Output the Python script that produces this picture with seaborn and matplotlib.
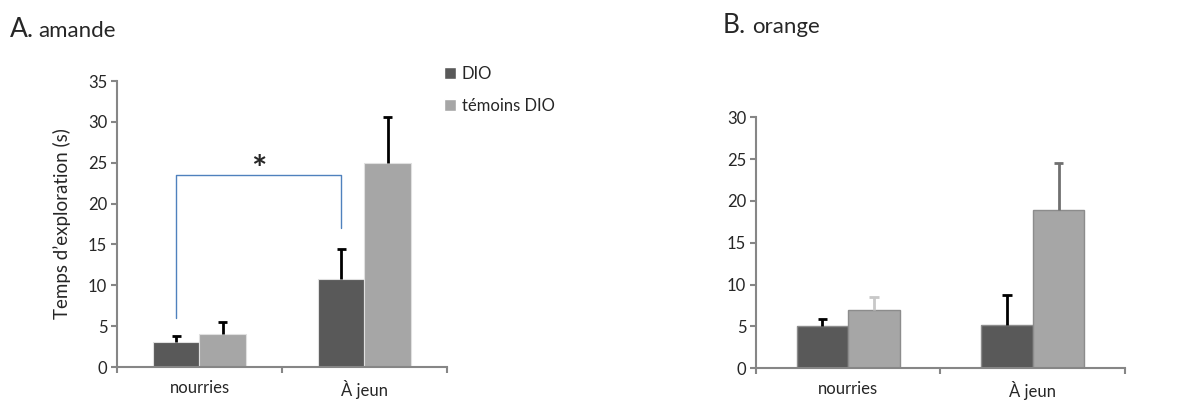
import pandas as pd
import matplotlib.pyplot as plt
import seaborn as sns
from matplotlib.patches import Patch

# Data
categories = ["nourries", "À jeun"]
groups = ["DIO", "témoins DIO"]

amande_dio = [3.0, 10.8]
amande_dio_err = [0.8, 3.7]
amande_tem = [4.0, 25.0]
amande_tem_err = [1.5, 5.6]

orange_dio = [5.0, 5.2]
orange_dio_err = [0.85, 3.6]
orange_tem = [7.0, 18.9]
orange_tem_err = [1.5, 5.6]

# significance bracket (amande): top, left leg bottom, right leg bottom
bracket_y = [23.5, 6.0, 17.0]

dark = "#595959"
light = "#a6a6a6"
spine_col = "#868686"

sns.set_style("white")
plt.rcParams["font.family"] = ["Lato", "DejaVu Sans"]


def make_df(dio, tem):
    return pd.DataFrame({
        "condition": categories * 2,
        "groupe": [groups[0]] * 2 + [groups[1]] * 2,
        "temps": dio + tem,
    })


def style_axis(ax, ymax):
    ax.set_ylim(0, ymax)
    ax.set_xlim(-0.5, 1.5)
    ax.set_yticks(range(0, ymax + 1, 5))
    for side in ["top", "right"]:
        ax.spines[side].set_visible(False)
    for side in ["left", "bottom"]:
        ax.spines[side].set_color(spine_col)
        ax.spines[side].set_linewidth(1.5)
    ax.tick_params(axis="y", direction="out", length=4, width=1.5, color=spine_col,
                   labelsize=12, left=True, pad=3)
    ax.tick_params(axis="x", which="major", length=0, labelsize=12, pad=9)
    ax.set_xticks([-0.5, 0.5, 1.5], minor=True)
    ax.tick_params(axis="x", which="minor", direction="out", length=4, width=1.5,
                   color=spine_col, bottom=True)
    ax.set_xlabel("")
    ax.set_ylabel("")


def add_errors(ax, errs, colors):
    # upper half error bars only, one cap at the top
    for container, err, cols in zip(ax.containers, errs, colors):
        for bar, e, c in zip(container, err, cols):
            x = bar.get_x() + bar.get_width() / 2
            h = bar.get_height()
            cw = bar.get_width() * 0.09
            ax.plot([x, x], [h, h + e], color=c, lw=2, zorder=3, solid_capstyle="butt")
            ax.plot([x - cw, x + cw], [h + e, h + e], color=c, lw=2, zorder=3,
                    solid_capstyle="butt")


fig = plt.figure(figsize=(11.96, 4.03), dpi=100)
axA = fig.add_axes([0.0978, 0.0893, 0.2759, 0.7097])
axB = fig.add_axes([0.6321, 0.0861, 0.3085, 0.6228])

# Panel A: amande
sns.barplot(data=make_df(amande_dio, amande_tem), x="condition", y="temps", hue="groupe",
            palette=[dark, light], width=0.56, ax=axA, legend=False,
            edgecolor="#e0e0e0", linewidth=0.8)
add_errors(axA, [amande_dio_err, amande_tem_err], [["black"] * 2, ["black"] * 2])
style_axis(axA, 35)
axA.set_ylabel("Temps d\u2019exploration (s)", fontsize=13.5, labelpad=12)

# bracket between DIO bars
xl = axA.containers[0][0].get_x() + axA.containers[0][0].get_width() / 2
xr = axA.containers[0][1].get_x() + axA.containers[0][1].get_width() / 2
axA.plot([xl, xl, xr, xr], [bracket_y[1], bracket_y[0], bracket_y[0], bracket_y[2]],
         color="#4f81bd", lw=1.0, zorder=2)
axA.text((xl + xr) / 2, bracket_y[0] - 1.5, "*", ha="center", va="bottom",
         fontsize=26, fontweight="bold")

# Panel B: orange
sns.barplot(data=make_df(orange_dio, orange_tem), x="condition", y="temps", hue="groupe",
            palette=[dark, light], width=0.56, ax=axB, legend=False,
            edgecolor="#8c8c8c", linewidth=1.0)
add_errors(axB, [orange_dio_err, orange_tem_err],
           [["black", "black"], ["#c8c8c8", "#707070"]])
style_axis(axB, 30)

# Titles
fig.text(10 / 1196, 1 - 37 / 403, "A.", fontsize=19, ha="left", va="baseline")
fig.text(38 / 1196, 1 - 37 / 403, "amande", fontsize=16, ha="left", va="baseline")
fig.text(723 / 1196, 1 - 33 / 403, "B.", fontsize=19, ha="left", va="baseline")
fig.text(752 / 1196, 1 - 33 / 403, "orange", fontsize=16, ha="left", va="baseline")

# Legend
handles = [Patch(facecolor=dark), Patch(facecolor=light)]
fig.legend(handles, groups, loc="upper left", bbox_to_anchor=(429 / 1196, 1 - 51 / 403),
           frameon=False, handlelength=0.7, handleheight=0.7, handletextpad=0.35,
           labelspacing=0.95, fontsize=12)

fig.savefig("out.png", dpi=100)
